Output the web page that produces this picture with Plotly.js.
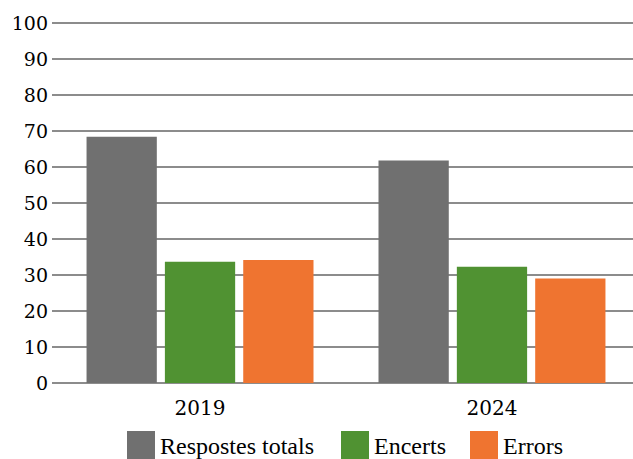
<!DOCTYPE html>
<html>
<head>
<meta charset="utf-8">
<script src="https://cdn.plot.ly/plotly-3.0.1.min.js"></script>
<style>html,body{margin:0;padding:0;background:#fff;}#chart{width:633px;height:459px;}</style>
</head>
<body>
<div id="chart"></div>
<script>
// ---- data ----
var categories = ["2019", "2024"];
var seriesNames = ["Respostes totals", "Encerts", "Errors"];
var respostesTotals = [68.4, 61.8];
var encerts = [33.7, 32.3];
var errors = [34.2, 29.0];
var yTicks = [0, 10, 20, 30, 40, 50, 60, 70, 80, 90, 100];
var colors = ["#707070", "#509232", "#EF7430"];

var seriesValues = [respostesTotals, encerts, errors];

var W = 633, H = 459;
var M = {l: 52, r: 0, t: 22, b: 76};
var plotW = W - M.l - M.r, plotH = H - M.t - M.b;
var yMax = 100.3;
function px2x(px) { return (px - M.l) / plotW; }
function py2y(py) { return (H - M.b - py) / plotH; }

var traces = seriesValues.map(function (vals, i) {
  return {
    type: "bar",
    x: categories,
    y: vals,
    name: seriesNames[i],
    marker: {color: colors[i], line: {width: 0}},
    hoverinfo: "skip",
    showlegend: false
  };
});

// custom legend (large square swatches)
var legendSwatchLeft = [127, 341, 470];
var sw = 28, swTop = 431;
var shapes = [], annotations = [];
seriesNames.forEach(function (n, i) {
  var x0 = legendSwatchLeft[i];
  shapes.push({
    type: "rect", xref: "paper", yref: "paper",
    x0: px2x(x0), x1: px2x(x0 + sw),
    y0: py2y(swTop + sw), y1: py2y(swTop),
    fillcolor: colors[i], line: {width: 0}, layer: "above"
  });
  annotations.push({
    xref: "paper", yref: "paper",
    x: px2x(x0 + sw + 3), y: py2y(swTop + sw / 2 + 1),
    xanchor: "left", yanchor: "middle",
    text: n, showarrow: false,
    font: {family: "Liberation Serif", size: 24, color: "#000"}
  });
});

var layout = {
  width: W, height: H,
  margin: M,
  paper_bgcolor: "#fff", plot_bgcolor: "#fff",
  barmode: "group",
  bargap: 0.195,
  bargroupgap: 0.103,
  showlegend: false,
  xaxis: {
    type: "category",
    range: [-0.507, 1.483],
    showgrid: false, zeroline: false, showline: false,
    ticks: "", ticklabelstandoff: 11,
    tickfont: {family: "DejaVu Serif", size: 20, color: "#000"},
    fixedrange: true
  },
  yaxis: {
    range: [0, yMax],
    tickvals: yTicks,
    ticktext: yTicks.map(String),
    showgrid: true, gridcolor: "#8c8c8c", gridwidth: 1.5,
    zeroline: true, zerolinecolor: "#8c8c8c", zerolinewidth: 1.5,
    showline: false, ticks: "", ticklabelstandoff: 3,
    tickfont: {family: "DejaVu Serif", size: 19, color: "#000"},
    fixedrange: true
  },
  shapes: shapes,
  annotations: annotations
};

Plotly.newPlot("chart", traces, layout, {displayModeBar: false, staticPlot: true});
</script>
</body>
</html>
